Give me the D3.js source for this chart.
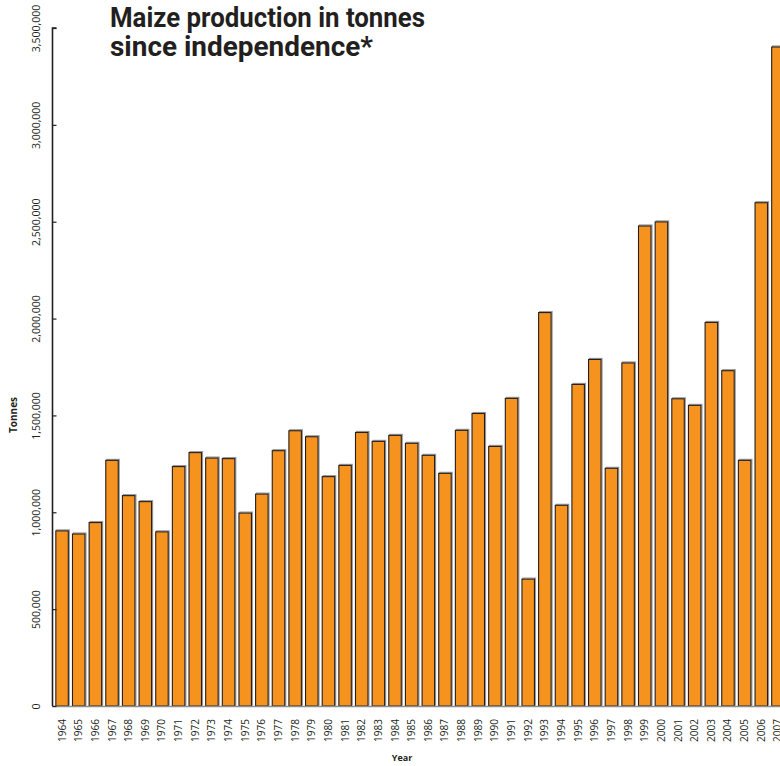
<!DOCTYPE html>
<html>
<head>
<meta charset="utf-8">
<script src="https://cdn.jsdelivr.net/npm/d3@7"></script>
<style>
  body { margin: 0; background: #fff; }
  svg { display: block; }
</style>
</head>
<body>
<script>
var svgWidth = 780;
var svgHeight = 766;

var years = [1964, 1965, 1966, 1967, 1968, 1969, 1970, 1971, 1972, 1973, 1974,
             1975, 1976, 1977, 1978, 1979, 1980, 1981, 1982, 1983, 1984, 1985,
             1986, 1987, 1988, 1989, 1990, 1991, 1992, 1993, 1994, 1995, 1996,
             1997, 1998, 1999, 2000, 2001, 2002, 2003, 2004, 2005, 2006, 2007];
var tonnes = [904000, 888000, 947000, 1268000, 1086000, 1055000, 899000, 1236000, 1308000, 1280000, 1277000,
              996000, 1094000, 1318000, 1421000, 1390000, 1184000, 1242000, 1412000, 1366000, 1397000, 1356000,
              1294000, 1201000, 1423000, 1510000, 1340000, 1588000, 655000, 2031000, 1036000, 1660000, 1789000,
              1227000, 1771000, 2478000, 2499000, 1586000, 1552000, 1980000, 1731000, 1268000, 2598000, 3402000];
var yTicks = [0, 500000, 1000000, 1500000, 2000000, 2500000, 3000000, 3500000];
var titleLines = ["Maize production in tonnes", "since independence*"];

var data = years.map(function(y, i){ return { year: y, value: tonnes[i] }; });

var svg = d3.select("body").append("svg")
            .attr("width", svgWidth)
            .attr("height", svgHeight);

var xscale = d3.scaleBand()
               .domain(years)
               .range([55, 785])
               .paddingInner(0.25)
               .paddingOuter(0.05);
var yscale = d3.scaleLinear()
               .domain([0, 3500000])
               .range([706, 28]);

// bars: soft grey shadow, then the orange bar
svg.selectAll('rect.shadow')
   .data(data)
   .enter()
   .append('rect')
   .attr('class', 'shadow')
   .attr('x', function(d){ return xscale(d.year) + 1; })
   .attr('y', function(d){ return yscale(d.value) - 1; })
   .attr('width', xscale.bandwidth())
   .attr('height', function(d){ return yscale(0) - yscale(d.value); })
   .attr('fill', 'none')
   .attr('stroke', '#9a9a9a')
   .attr('stroke-width', 1.2);

svg.selectAll('rect.bar')
   .data(data)
   .enter()
   .append('rect')
   .attr('class', 'bar')
   .attr('x', function(d){ return xscale(d.year); })
   .attr('y', function(d){ return yscale(d.value); })
   .attr('width', xscale.bandwidth())
   .attr('height', function(d){ return yscale(0) - yscale(d.value); })
   .attr('fill', '#f6921e')
   .attr('stroke', '#231f20')
   .attr('stroke-width', 1.1);

// x axis baseline
svg.append('line')
   .attr('x1', 52).attr('x2', svgWidth)
   .attr('y1', yscale(0) + 0.5).attr('y2', yscale(0) + 0.5)
   .attr('stroke', '#8c8c8c')
   .attr('stroke-width', 1.6);

// year labels
svg.selectAll('text.year')
   .data(years)
   .enter()
   .append('text')
   .attr('class', 'year')
   .attr('transform', function(d){ return 'translate(' + (xscale(d) + xscale.bandwidth() / 2 + 3.5) + ',719) rotate(-90)'; })
   .attr('text-anchor', 'end')
   .style('font-family', 'Open Sans')
   .style('font-size', '10px')
   .attr('fill', '#231f20')
   .text(function(d){ return d; });

// y axis, ticks inward, labels rotated
var yaxis = d3.axisRight(yscale)
              .tickValues(yTicks)
              .tickSize(4)
              .tickFormat(d3.format(','));
var gy = svg.append('g')
            .attr('transform', 'translate(52.5,0)')
            .call(yaxis);
gy.select('.domain').attr('stroke', '#231f20').attr('stroke-width', 1.6).attr('d', 'M4,' + yscale(3500000) + 'H0V' + yscale(0));
gy.selectAll('.tick line').attr('stroke', '#231f20').attr('stroke-width', 1.2);
gy.selectAll('.tick text')
  .attr('x', null).attr('dy', null)
  .attr('transform', 'translate(-13,0) rotate(-90)')
  .attr('text-anchor', 'middle')
  .style('font-family', 'Open Sans')
  .style('font-size', '10.5px')
  .attr('fill', '#231f20');

// axis titles
svg.append('text')
   .attr('transform', 'translate(17,415) rotate(-90)')
   .attr('text-anchor', 'middle')
   .style('font-family', 'Open Sans')
   .style('font-weight', 'bold')
   .style('font-size', '10px')
   .attr('fill', '#231f20')
   .text('Tonnes');

svg.append('text')
   .attr('x', 402).attr('y', 761)
   .attr('text-anchor', 'middle')
   .style('font-family', 'Open Sans')
   .style('font-weight', 'bold')
   .style('font-size', '9px')
   .attr('fill', '#231f20')
   .text('Year');

// title
var lineWidths = [315, 263];
svg.selectAll('text.title')
   .data(titleLines)
   .enter()
   .append('text')
   .attr('class', 'title')
   .attr('x', 110)
   .attr('y', function(d, i){ return 26.5 + i * 29; })
   .attr('textLength', function(d, i){ return lineWidths[i]; })
   .attr('lengthAdjust', 'spacingAndGlyphs')
   .style('font-family', 'Roboto')
   .style('font-weight', 'bold')
   .style('font-size', '27px')
   .attr('fill', '#231f20')
   .text(function(d){ return d; });
</script>
</body>
</html>
